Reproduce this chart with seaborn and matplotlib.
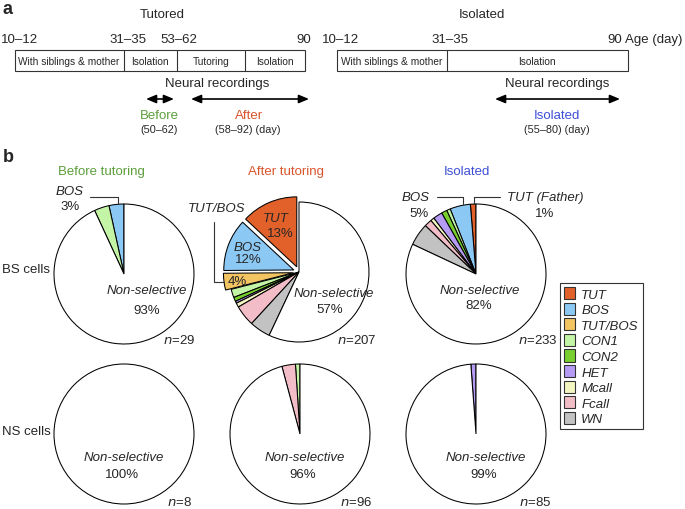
import matplotlib
matplotlib.use("Agg")
import matplotlib.pyplot as plt
from matplotlib.patches import Patch, Rectangle
import seaborn as sns

# categories and colours
categories = ["TUT", "BOS", "TUT/BOS", "CON1", "CON2", "HET", "Mcall", "Fcall", "WN"]
cat_colors = ["#E2612B", "#8CC8F4", "#F2C462", "#C4F5A6", "#78CF2E",
              "#B59BF4", "#F4F6C2", "#F2BDC6", "#C2C2C2"]

# cell counts per category (same order as categories), plus non-selective
bs_before = [0, 1, 0, 1, 0, 0, 0, 0, 0]
bs_before_nonsel = 27
bs_after = [27, 25, 8, 4, 2, 1, 2, 10, 10]
bs_after_nonsel = 118
bs_isolated = [3, 11, 0, 2, 3, 5, 2, 4, 12]
bs_isolated_nonsel = 191
ns_before = [0, 0, 0, 0, 0, 0, 0, 0, 0]
ns_before_nonsel = 8
ns_after = [0, 0, 0, 1, 0, 0, 0, 3, 0]
ns_after_nonsel = 92
ns_isolated = [0, 0, 0, 0, 0, 1, 0, 0, 0]
ns_isolated_nonsel = 84

group_titles = ["Before tutoring", "After tutoring", "Isolated"]
group_colors = ["#5C9E3A", "#D9542B", "#3D4FD6"]

tutored_stages = ["With siblings & mother", "Isolation", "Tutoring", "Isolation"]
tutored_ages = ["10\u201312", "31\u201335", "53\u201362", "90"]
isolated_stages = ["With siblings & mother", "Isolation"]
isolated_ages = ["10\u201312", "31\u201335", "90"]

sns.set_style("white")
plt.rcParams["font.family"] = ["Liberation Sans", "DejaVu Sans"]

W, H = 685, 510
FS = 9.5
fig = plt.figure(figsize=(W / 100, H / 100), dpi=100)


def pie_axes(cx, cy, r):
    return fig.add_axes([(cx - r) / W, 1 - (cy + r) / H, 2 * r / W, 2 * r / H])


def draw_pie(cx, cy, r, counts, nonsel, explode_first=0):
    ax = pie_axes(cx, cy, r)
    vals, cols, expl = [], [], []
    for i, (v, c) in enumerate(zip(counts, cat_colors)):
        if v > 0:
            vals.append(v)
            cols.append(c)
            expl.append(0.08 if i < explode_first else 0)
    vals.append(nonsel)
    cols.append("white")
    expl.append(0)
    ax.pie(vals, colors=cols, startangle=90, counterclock=True, explode=expl,
           wedgeprops=dict(edgecolor="black", linewidth=0.75))
    ax.set_xlim(-1.0, 1.0)
    ax.set_ylim(-1.0, 1.0)
    ax.set_aspect("auto")
    ax.axis("off")
    for p in ax.patches:
        p.set_clip_on(False)
    return ax


# BS row
draw_pie(124, 275, 70, bs_before, bs_before_nonsel)
draw_pie(299, 273, 70, bs_after, bs_after_nonsel, explode_first=3)
draw_pie(476, 275, 70, bs_isolated, bs_isolated_nonsel)
# NS row
draw_pie(124, 435, 70, ns_before, ns_before_nonsel)
draw_pie(300, 435, 70, ns_after, ns_after_nonsel)
draw_pie(476, 435, 70, ns_isolated, ns_isolated_nonsel)

# overlay for annotations, in pixel coordinates
ov = fig.add_axes([0, 0, 1, 1])
ov.set_xlim(0, W)
ov.set_ylim(H, 0)
ov.axis("off")

# ---- panel a ----
ov.text(3, 10, "a", fontsize=13, fontweight="bold", va="center")
ov.text(162, 15, "Tutored", fontsize=FS, ha="center", va="center")
ov.text(482, 15, "Isolated", fontsize=FS, ha="center", va="center")

# tutored timeline
ov.add_patch(Rectangle((15, 51), 290, 21, fill=False, lw=0.8, ec="#333333"))
for x in [124, 177, 245]:
    ov.plot([x, x], [51, 72], color="#333333", lw=0.8)
for x, s in zip([69, 150, 211, 275], tutored_stages):
    ov.text(x, 62, s, fontsize=7.3, ha="center", va="center")
ov.text(1, 40, tutored_ages[0], fontsize=FS, ha="left", va="center")
for x, s in zip([128, 179, 304], tutored_ages[1:]):
    ov.text(x, 40, s, fontsize=FS, ha="center", va="center")

# isolated timeline
ov.add_patch(Rectangle((337, 51), 291, 21, fill=False, lw=0.8, ec="#333333"))
ov.plot([447, 447], [51, 72], color="#333333", lw=0.8)
for x, s in zip([392, 537], isolated_stages):
    ov.text(x, 62, s, fontsize=7.3, ha="center", va="center")
for x, s in zip([341, 450, 615], isolated_ages):
    ov.text(x, 40, s, fontsize=FS, ha="center", va="center")
ov.text(625, 40, "Age (day)", fontsize=FS, ha="left", va="center")

ov.text(217, 84, "Neural recordings", fontsize=FS, ha="center", va="center")
ov.text(557, 84, "Neural recordings", fontsize=FS, ha="center", va="center")

arrow = dict(arrowstyle="<|-|>,head_length=0.6,head_width=0.25", color="black",
             lw=1.2, shrinkA=0, shrinkB=0)
for x0, x1 in [(146, 174), (191, 309), (495, 620)]:
    ov.annotate("", xy=(x1, 100), xytext=(x0, 100), arrowprops=arrow)

ov.text(159, 116, "Before", fontsize=FS, color=group_colors[0], ha="center", va="center")
ov.text(249, 116, "After", fontsize=FS, color=group_colors[1], ha="center", va="center")
ov.text(557, 116, "Isolated", fontsize=FS, color=group_colors[2], ha="center", va="center")
ov.text(159, 130, "(50\u201362)", fontsize=7.8, ha="center", va="center")
ov.text(248, 130, "(58\u201392) (day)", fontsize=7.8, ha="center", va="center")
ov.text(557, 130, "(55\u201380) (day)", fontsize=7.8, ha="center", va="center")

# ---- panel b ----
ov.text(3, 158, "b", fontsize=13, fontweight="bold", va="center")
for x, t, c in zip([101, 286, 467], group_titles, group_colors):
    ov.text(x, 172, t, fontsize=FS, color=c, ha="center", va="center")
ov.text(2, 270, "BS cells", fontsize=FS, ha="left", va="center")
ov.text(2, 432, "NS cells", fontsize=FS, ha="left", va="center")

lk = dict(color="#333333", lw=0.8)
# before
ov.text(70, 192, "BOS", fontsize=FS, style="italic", ha="center", va="center")
ov.text(70, 207, "3%", fontsize=FS, ha="center", va="center")
ov.plot([90, 118, 118], [198, 198, 205], **lk)
ov.text(147, 291, "Non-selective", fontsize=FS, style="italic", ha="center", va="center")
ov.text(147, 311, "93%", fontsize=FS, ha="center", va="center")

# after
ov.text(217, 209, "TUT/BOS", fontsize=FS, style="italic", ha="center", va="center")
ov.plot([214, 214, 224], [223, 283, 283], **lk)
ov.text(276, 219, "TUT", fontsize=FS, style="italic", ha="center", va="center")
ov.text(280, 234, "13%", fontsize=FS, ha="center", va="center")
ov.text(248, 248, "BOS", fontsize=FS, style="italic", ha="center", va="center")
ov.text(248, 260, "12%", fontsize=FS, ha="center", va="center")
ov.text(237, 282, "4%", fontsize=FS, ha="center", va="center")
ov.text(334, 294, "Non-selective", fontsize=FS, style="italic", ha="center", va="center")
ov.text(330, 310, "57%", fontsize=FS, ha="center", va="center")

# isolated
ov.text(416, 198, "BOS", fontsize=FS, style="italic", ha="center", va="center")
ov.text(419, 214, "5%", fontsize=FS, ha="center", va="center")
ov.plot([437, 463, 463], [198, 198, 205], **lk)
ov.text(545, 198, "TUT (Father)", fontsize=FS, style="italic", ha="center", va="center")
ov.text(545, 214, "1%", fontsize=FS, ha="center", va="center")
ov.plot([500, 474, 474], [198, 198, 205], **lk)
ov.text(480, 291, "Non-selective", fontsize=FS, style="italic", ha="center", va="center")
ov.text(479, 306, "82%", fontsize=FS, ha="center", va="center")

# NS labels
for x, p in zip([124, 305, 486], ["100%", "96%", "99%"]):
    ov.text(x, 458, "Non-selective", fontsize=FS, style="italic", ha="center", va="center")
    ov.text(x - 2, 475, p, fontsize=FS, ha="center", va="center")

# n labels
for x, y, n in [(179, 341, "29"), (357, 341, "207"), (538, 341, "233"),
                (179, 503, "8"), (356, 503, "96"), (535, 503, "85")]:
    ov.text(x, y, "$\\it{n}$=" + n, fontsize=FS, ha="center", va="center")

# legend
handles = [Patch(facecolor=c, edgecolor="#333333", lw=0.8) for c in cat_colors]
leg = fig.legend(handles, categories, loc="upper left",
                 bbox_to_anchor=(560 / W, 1 - 284 / H), fontsize=FS,
                 handlelength=0.85, handleheight=1.05, handletextpad=0.45,
                 labelspacing=0.15, borderpad=0.3, borderaxespad=0,
                 fancybox=False, framealpha=1, edgecolor="#333333")
leg.get_frame().set_linewidth(0.8)
for t in leg.get_texts():
    t.set_style("italic")

fig.savefig("out.png", dpi=100)
